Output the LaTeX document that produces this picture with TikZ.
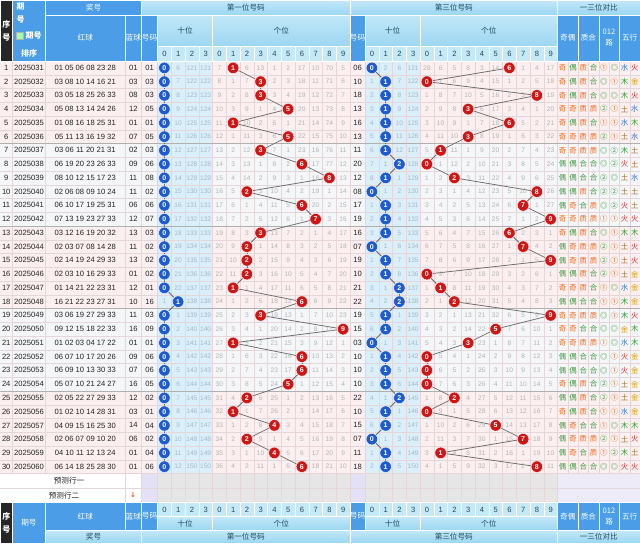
\documentclass[tikz,border=0pt]{standalone}
\usepackage{fontspec}
\setmainfont{Liberation Sans}
\newfontfamily\cjk{Noto Sans CJK SC}
\newfontfamily\dejavu{DejaVu Sans}
\pgfdeclarelayer{back}
\pgfdeclarelayer{mid}
\pgfsetlayers{back,mid,main}
\definecolor{hdark}{HTML}{4B9DE7}
\definecolor{hlone}{HTML}{C2E8F9}
\definecolor{hltwo}{HTML}{9DD6F1}
\definecolor{hdig}{HTML}{C6E9F8}
\definecolor{hblack}{HTML}{262626}
\definecolor{htext}{HTML}{1D4B5C}
\definecolor{bandA}{HTML}{FCEFEF}
\definecolor{bandB}{HTML}{F4F6F8}
\definecolor{tensbg}{HTML}{DAEFFA}
\definecolor{omiscol}{HTML}{B4B4B4}
\definecolor{omistcol}{HTML}{A4B8C8}
\definecolor{ballred}{HTML}{D01515}
\definecolor{ballblue}{HTML}{1F5BD0}
\definecolor{cO}{HTML}{EE6A1A}
\definecolor{cG}{HTML}{3C9A3C}
\definecolor{wJin}{HTML}{E0A000}
\definecolor{wMu}{HTML}{2E9A2E}
\definecolor{wShui}{HTML}{2F6FE0}
\definecolor{wHuo}{HTML}{E02828}
\definecolor{wTu}{HTML}{A87030}
\definecolor{predgray}{HTML}{E6E6E6}
\definecolor{predlav}{HTML}{E4E0F6}
\definecolor{predlavb}{HTML}{EEEBF8}
\definecolor{gridcol}{HTML}{E6D6DA}
\definecolor{grpcol}{HTML}{B0B0B0}
\definecolor{linecol}{HTML}{6A6A6A}
\definecolor{dtext}{HTML}{222222}
\definecolor{arrcol}{HTML}{E8501A}
\newcommand\omget[1]{\csname om@#1\endcsname}
\newcommand\omset[2]{\expandafter\xdef\csname om@#1\endcsname{#2}}
\omset{At0}{0}\omset{At1}{5}\omset{At2}{120}\omset{At3}{120}
\omset{Au0}{6}\omset{Au1}{0}\omset{Au2}{5}\omset{Au3}{12}\omset{Au4}{0}
\omset{Au5}{1}\omset{Au6}{16}\omset{Au7}{9}\omset{Au8}{69}\omset{Au9}{4}
\omset{Ct0}{0}\omset{Ct1}{1}\omset{Ct2}{5}\omset{Ct3}{120}
\omset{Cu0}{27}\omset{Cu1}{5}\omset{Cu2}{4}\omset{Cu3}{7}\omset{Cu4}{2}
\omset{Cu5}{13}\omset{Cu6}{0}\omset{Cu7}{0}\omset{Cu8}{3}\omset{Cu9}{16}
\newcommand\two[1]{\ifnum#1<10 0\fi#1}
\newcommand\oddev[1]{\ifodd#1\relax{\color{cO}奇}\else{\color{cG}偶}\fi}
\newcommand\zhP{{\color{cO}质}}
\newcommand\zhC{{\color{cG}合}}
\newcommand\zhh[1]{\ifcase#1\relax\or\zhP\or\zhP\or\zhP\or\zhC\or\zhP\or\zhC\or\zhP\or\zhC\or\zhC\or\zhC\or\zhP\or\zhC\or\zhP\or\zhC\or\zhC\or\zhC\or\zhP\or\zhC\or\zhP\or\zhC\or\zhC\or\zhC\or\zhP\or\zhC\or\zhC\or\zhC\or\zhC\or\zhC\or\zhP\or\zhC\or\zhP\or\zhC\or\zhC\fi}
\newcommand\luu[1]{\pgfmathtruncatemacro\rrr{mod(#1,3)}\ifcase\rrr\relax{\color{cG}◎}\or{\color{cO}①}\or{\color{cG}②}\fi}
\newcommand\wxS{{\color{wShui}水}}
\newcommand\wxT{{\color{wTu}土}}
\newcommand\wxM{{\color{wMu}木}}
\newcommand\wxH{{\color{wHuo}火}}
\newcommand\wxJ{{\color{wJin}金}}
\newcommand\wxx[1]{\pgfmathtruncatemacro\www{mod(#1-1,12)}\ifcase\www\relax\wxS\or\wxT\or\wxM\or\wxM\or\wxT\or\wxH\or\wxH\or\wxT\or\wxJ\or\wxJ\or\wxT\or\wxS\fi}
\newcommand\drawpos[5]{%
  \pgfmathtruncatemacro\dt{div(#2,10)}%
  \pgfmathtruncatemacro\du{mod(#2,10)}%
  \pgfmathsetmacro\yy{61+13.75*(#5-0.5)}%
  \foreach \k in {0,...,3}{%
    \pgfmathsetmacro\xx{#3+13.75*(\k+0.5)}%
    \ifnum\k=\dt\relax
      \omset{#1t\k}{0}%
      \node[bball] (#1-t-#5) at (\xx,\yy) {\k};%
    \else
      \pgfmathtruncatemacro\nv{\omget{#1t\k}+1}%
      \omset{#1t\k}{\nv}%
      \node[omt] (#1-ot\k-#5) at (\xx,\yy) {\nv};%
    \fi}%
  \foreach \k in {0,...,9}{%
    \pgfmathsetmacro\xx{#4+13.75*(\k+0.5)}%
    \ifnum\k=\du\relax
      \omset{#1u\k}{0}%
      \node[rball] (#1-u-#5) at (\xx,\yy) {\k};%
    \else
      \pgfmathtruncatemacro\nv{\omget{#1u\k}+1}%
      \omset{#1u\k}{\nv}%
      \node[omu] (#1-ou\k-#5) at (\xx,\yy) {\nv};%
    \fi}%
}
\newcommand\cell[8]{%
  \path[#6] (#2,#3) rectangle (#4,#5);
  \node[#7] (#1) at ({(#2+#4)/2},{(#3+#5)/2}) {#8};}
\begin{document}
\begin{tikzpicture}[x=1pt,y=-1pt,
  dtxt/.style={inner sep=0pt,text=dtext,font=\fontsize{7.6}{8}\selectfont},
  omt/.style={inner sep=0pt,text=omistcol,font=\fontsize{6.6}{7}\selectfont},
  omu/.style={inner sep=0pt,text=omiscol,font=\fontsize{6.6}{7}\selectfont},
  rball/.style={circle,fill=ballred,draw=white,line width=0.4pt,inner sep=0pt,minimum size=11.5pt,text=white,font=\bfseries\fontsize{7}{8}\selectfont},
  bball/.style={circle,fill=ballblue,draw=white,line width=0.4pt,inner sep=0pt,minimum size=11.5pt,text=white,font=\bfseries\fontsize{7}{8}\selectfont},
  rc/.style={inner sep=0pt,font=\cjk\fontsize{7.4}{8}\selectfont},
  conn/.style={draw=linecol,line width=0.75pt},
  gridl/.style={draw=gridcol,line width=0.35pt},
  grpl/.style={draw=grpcol,line width=0.6pt},
  hD/.style={fill=hdark,draw=white,line width=0.4pt},
  hL/.style={top color=hlone,bottom color=hltwo,draw=white,line width=0.4pt},
  hG/.style={fill=hdig,draw=white,line width=0.4pt},
  hK/.style={fill=hblack,draw=white,line width=0.4pt},
  tD/.style={inner sep=0pt,text=white,align=center,font=\cjk\fontsize{7.6}{11}\selectfont},
  tK/.style={inner sep=0pt,text=white,align=center,font=\cjk\bfseries\fontsize{8}{13}\selectfont},
  tL/.style={inner sep=0pt,text=htext,align=center,font=\cjk\fontsize{7.6}{11}\selectfont},
  tG/.style={inner sep=0pt,text=htext,font=\fontsize{7.6}{8}\selectfont},
  ptxt/.style={inner sep=0pt,text=dtext,font=\cjk\fontsize{7.6}{8}\selectfont}]
\useasboundingbox (0,0) rectangle (640,547);
\begin{pgfonlayer}{back}
\fill[white] (0,0) rectangle (640,547);
\foreach \g in {0,...,4}{%
  \pgfmathsetmacro\ya{61+82.5*\g}\pgfmathsetmacro\yb{\ya+82.5}%
  \ifodd\g\relax \fill[bandB] (0,\ya) rectangle (640,\yb);\else \fill[bandA] (0,\ya) rectangle (640,\yb);\fi}
\fill[tensbg] (157.5,61) rectangle (212.5,473.5);
\fill[tensbg] (365,61) rectangle (420,473.5);
\fill[white] (0,473.5) rectangle (141.5,502.5);
\fill[predlav] (141.5,473.5) rectangle (157.5,502.5);
\fill[predgray] (157.5,473.5) rectangle (350,502.5);
\fill[predlav] (350,473.5) rectangle (365,502.5);
\fill[predgray] (365,473.5) rectangle (557.5,502.5);
\fill[predlavb] (557.5,473.5) rectangle (640,502.5);
\foreach \x in {12.5,45.5}{\draw[gridl] (\x,61) -- (\x,473.5);}
\foreach \x in {125,141.5,157.5,350,365,557.5}{\draw[gridl] (\x,61) -- (\x,502.5);}
\foreach \k in {1,...,13}{\draw[gridl] ({157.5+13.75*\k},61) -- ({157.5+13.75*\k},502.5);
  \draw[gridl] ({365+13.75*\k},61) -- ({365+13.75*\k},502.5);}
\foreach \m in {1,...,7}{\draw[gridl] ({557.5+10.3125*\m},61) -- ({557.5+10.3125*\m},473.5);}
\foreach \r in {1,...,30}{\draw[gridl] (0,{61+13.75*\r}) -- (640,{61+13.75*\r});}
\draw[gridl] (0,488) -- (640,488);
\foreach \g in {1,...,4}{\draw[grpl] (0,{61+82.5*\g}) -- (640,{61+82.5*\g});}
\end{pgfonlayer}
% ---------- header ----------
\cell{hxh}{0}{0}{12.5}{61}{hK}{tK}{序\\号}
\path[hD] (12.5,0) rectangle (45.5,61);
\node[tK] (hq1) at (20.5,6.5) {期};
\node[tK] (hq2) at (20.5,19.5) {号};
\node[draw=gray!60,fill=green!35!white,minimum width=7pt,minimum height=7pt,inner sep=0pt] (hicon) at (20,36) {};
\node[tK] (hq3) at (33.5,36) {期号};
\node[tK] (hq4) at (29,53) {排序};
\cell{hjh}{45.5}{0}{141.5}{15}{hD}{tD}{奖号}
\cell{hhq}{45.5}{15}{125}{61}{hD}{tD}{红球}
\cell{hlq}{125}{15}{141.5}{61}{hD}{tD}{蓝球}
\cell{hma}{141.5}{15}{157.5}{61}{hD}{tD}{号码}
\cell{hpa}{141.5}{0}{350}{15}{hL}{tL}{第一位号码}
\cell{hsa}{157.5}{15}{212.5}{46}{hL}{tL}{十位}
\cell{hga}{212.5}{15}{350}{46}{hL}{tL}{个位}
\cell{hpc}{350}{0}{557.5}{15}{hL}{tL}{第三位号码}
\cell{hmc}{350}{15}{365}{61}{hD}{tD}{号码}
\cell{hsc}{365}{15}{420}{46}{hL}{tL}{十位}
\cell{hgc}{420}{15}{557.5}{46}{hL}{tL}{个位}
\cell{hdb}{557.5}{0}{640}{15}{hL}{tL}{一三位对比}
\cell{hoe}{557.5}{15}{578.125}{61}{hD}{tD}{奇偶}
\cell{hzh}{578.125}{15}{598.75}{61}{hD}{tD}{质合}
\cell{hlu}{598.75}{15}{619.375}{61}{hD}{tD}{012\\路}
\cell{hwx}{619.375}{15}{640}{61}{hD}{tD}{五行}
\foreach \k in {0,...,13}{%
  \pgfmathtruncatemacro\lab{\k<4 ? \k : \k-4}%
  \cell{hda\k}{157.5+13.75*\k}{46}{171.25+13.75*\k}{61}{hG}{tG}{\lab}
  \cell{hdc\k}{365+13.75*\k}{46}{378.75+13.75*\k}{61}{hG}{tG}{\lab}
  \cell{fda\k}{157.5+13.75*\k}{502.5}{171.25+13.75*\k}{516.5}{hG}{tG}{\lab}
  \cell{fdc\k}{365+13.75*\k}{502.5}{378.75+13.75*\k}{516.5}{hG}{tG}{\lab}}
% ---------- footer ----------
\cell{fxh}{0}{502.5}{12.5}{543}{hK}{tK}{序\\号}
\cell{fqh}{12.5}{502.5}{45.5}{543}{hD}{tD}{期号}
\cell{fhq}{45.5}{502.5}{125}{530}{hD}{tD}{红球}
\cell{flq}{125}{502.5}{141.5}{530}{hD}{tD}{蓝球}
\cell{fma}{141.5}{502.5}{157.5}{530}{hD}{tD}{号码}
\cell{fsa}{157.5}{516.5}{212.5}{530}{hL}{tL}{十位}
\cell{fga}{212.5}{516.5}{350}{530}{hL}{tL}{个位}
\cell{fjh}{45.5}{530}{141.5}{543}{hL}{tL}{奖号}
\cell{fpa}{141.5}{530}{350}{543}{hL}{tL}{第一位号码}
\cell{fmc}{350}{502.5}{365}{530}{hD}{tD}{号码}
\cell{fsc}{365}{516.5}{420}{530}{hL}{tL}{十位}
\cell{fgc}{420}{516.5}{557.5}{530}{hL}{tL}{个位}
\cell{fpc}{350}{530}{557.5}{543}{hL}{tL}{第三位号码}
\cell{foe}{557.5}{502.5}{578.125}{530}{hD}{tD}{奇偶}
\cell{fzh}{578.125}{502.5}{598.75}{530}{hD}{tD}{质合}
\cell{flu}{598.75}{502.5}{619.375}{530}{hD}{tD}{012\\路}
\cell{fwx}{619.375}{502.5}{640}{530}{hD}{tD}{五行}
\cell{fdb}{557.5}{530}{640}{543}{hL}{tL}{一三位对比}
% ---------- prediction rows ----------
\node[ptxt] (pred1) at (69,481) {预测行一};
\node[ptxt] (pred2) at (64,495.5) {预测行二};
\node[inner sep=0pt,text=arrcol,font=\dejavu\bfseries\fontsize{7}{8}\selectfont] (parr) at (133,495) {↓};
% ---------- data rows ----------
\foreach \i/\iss/\rd/\bl/\pa/\pc in {
1/2025031/01 05 06 08 23 28/01/1/6,
2/2025032/03 08 10 14 16 21/03/3/10,
3/2025033/03 05 18 25 26 33/08/3/18,
4/2025034/05 08 13 14 24 26/12/5/13,
5/2025035/01 08 16 18 25 31/01/1/16,
6/2025036/05 11 13 16 19 32/07/5/13,
7/2025037/03 06 11 20 21 31/02/3/11,
8/2025038/06 19 20 23 26 33/09/6/20,
9/2025039/08 10 12 15 17 23/11/8/12,
10/2025040/02 06 08 09 10 24/11/2/8,
11/2025041/06 10 17 19 25 31/06/6/17,
12/2025042/07 13 19 23 27 33/12/7/19,
13/2025043/03 12 16 19 20 32/13/3/16,
14/2025044/02 03 07 08 14 28/11/2/7,
15/2025045/02 14 19 24 29 33/13/2/19,
16/2025046/02 03 10 16 29 33/01/2/10,
17/2025047/01 14 21 22 23 31/12/1/21,
18/2025048/16 21 22 23 27 31/10/16/22,
19/2025049/03 06 19 27 29 33/11/3/19,
20/2025050/09 12 15 18 22 33/16/9/15,
21/2025051/01 02 03 04 17 22/01/1/3,
22/2025052/06 07 10 17 20 26/09/6/10,
23/2025053/06 09 10 13 30 33/07/6/10,
24/2025054/05 07 10 21 24 27/16/5/10,
25/2025055/02 05 22 27 29 33/12/2/22,
26/2025056/01 02 10 14 28 31/03/1/10,
27/2025057/04 09 15 16 25 30/14/4/15,
28/2025058/02 06 07 09 10 20/06/2/7,
29/2025059/04 10 11 12 13 24/01/4/11,
30/2025060/06 14 18 25 28 30/01/6/18}{%
  \pgfmathsetmacro\yr{61+13.75*(\i-0.5)}%
  \node[dtxt] (n\i) at (6.25,\yr) {\i};
  \node[dtxt] (q\i) at (29,\yr) {\iss};
  \node[dtxt] (r\i) at (85.25,\yr) {\rd};
  \node[dtxt] (b\i) at (133.25,\yr) {\bl};
  \node[dtxt] (ca\i) at (149.5,\yr) {\two{\pa}};
  \node[dtxt] (cc\i) at (357.5,\yr) {\two{\pc}};
  \drawpos{A}{\pa}{157.5}{212.5}{\i}
  \drawpos{C}{\pc}{365}{420}{\i}
  \node[rc] (xa\i) at (562.66,\yr) {\oddev{\pa}};
  \node[rc] (xb\i) at (572.97,\yr) {\oddev{\pc}};
  \node[rc] (xc\i) at (583.28,\yr) {\zhh{\pa}};
  \node[rc] (xd\i) at (593.59,\yr) {\zhh{\pc}};
  \node[rc] (xe\i) at (603.91,\yr) {\luu{\pa}};
  \node[rc] (xf\i) at (614.22,\yr) {\luu{\pc}};
  \node[rc] (xg\i) at (624.53,\yr) {\wxx{\pa}};
  \node[rc] (xh\i) at (634.84,\yr) {\wxx{\pc}};
}
% ---------- connectors ----------
\begin{pgfonlayer}{mid}
\foreach \i [evaluate=\i as \j using int(\i+1)] in {1,...,29}{%
  \draw[conn] (A-t-\i) -- (A-t-\j);
  \draw[conn] (A-u-\i) -- (A-u-\j);
  \draw[conn] (C-t-\i) -- (C-t-\j);
  \draw[conn] (C-u-\i) -- (C-u-\j);}
\end{pgfonlayer}
\end{tikzpicture}
\end{document}
